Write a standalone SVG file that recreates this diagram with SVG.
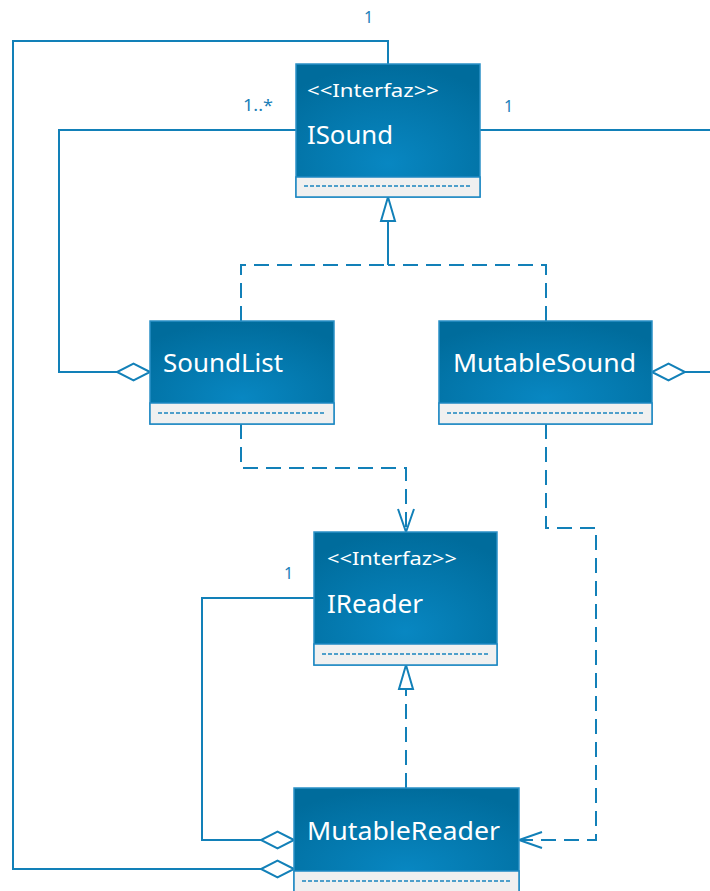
<svg xmlns="http://www.w3.org/2000/svg" width="710" height="891" viewBox="0 0 710 891">
  <defs>
    <radialGradient id="boxFill" cx="50%" cy="75%" r="75%">
      <stop offset="0" stop-color="#0887C2"/>
      <stop offset="1" stop-color="#006C9C"/>
    </radialGradient>
    <marker id="diamond" markerUnits="userSpaceOnUse" orient="auto" refX="0" refY="0" markerWidth="40" markerHeight="20" overflow="visible">
      <path d="M0,0 L-16.5,-8.5 L-33,0 L-16.5,8.5 Z" fill="#FFFFFF" stroke="#1280B8" stroke-width="2" stroke-linejoin="miter"/>
    </marker>
    <marker id="hollowTri" markerUnits="userSpaceOnUse" orient="auto" refX="0" refY="0" markerWidth="30" markerHeight="20" overflow="visible">
      <path d="M0,0 L-24,-7 L-24,7 Z" fill="#FFFFFF" stroke="#1280B8" stroke-width="2"/>
    </marker>
    <marker id="openArrow" markerUnits="userSpaceOnUse" orient="auto" refX="0" refY="0" markerWidth="30" markerHeight="20" overflow="visible">
      <path d="M-23,-8 L0,0 L-23,8" fill="none" stroke="#1280B8" stroke-width="2"/>
    </marker>
  </defs>
  <style>
    .box { fill: url(#boxFill); stroke: #2A90C6; stroke-width: 1.5; }
    .comp { fill: #F0F0F0; stroke: #1E88C2; stroke-width: 1.5; }
    .compDash { stroke: #1A84BE; stroke-width: 1.5; stroke-dasharray: 4 2; fill: none; }
    .stereo { font-family: "Noto Sans", "Open Sans", sans-serif; font-size: 18px; fill: #FFFFFF; }
    .name { font-family: "Noto Sans", "Open Sans", sans-serif; font-size: 26px; fill: #FFFFFF; }
    .mult { font-family: "Noto Sans", "Open Sans", sans-serif; font-size: 16px; fill: #1A7FB8; }
    .line { fill: none; stroke: #1280B8; stroke-width: 2; }
    .dashed { fill: none; stroke: #1280B8; stroke-width: 2; stroke-dasharray: 15 8; }
  </style>

  <g id="connectors">
    <!-- ISound to MutableReader: aggregation, multiplicity 1 -->
    <polyline class="line" points="388,64 388,41 13,41 13,869 294,869" marker-end="url(#diamond)"/>
    <!-- ISound to SoundList: aggregation, multiplicity 1..* -->
    <polyline class="line" points="296,130 59,130 59,372 150,372" marker-end="url(#diamond)"/>
    <!-- ISound to MutableSound: aggregation, multiplicity 1 (routed off to the right) -->
    <polyline class="line" points="480,130 712,130"/>
    <polyline class="line" points="712,372 652,372" marker-end="url(#diamond)"/>
    <!-- IReader to MutableReader: aggregation, multiplicity 1 -->
    <polyline class="line" points="314,598 202,598 202,840 294,840" marker-end="url(#diamond)"/>
    <!-- realizations of ISound -->
    <polyline class="dashed" points="241,321 241,265 388,265"/>
    <polyline class="dashed" points="546,321 546,265 388,265"/>
    <line class="line" x1="388" y1="265" x2="388" y2="197" marker-end="url(#hollowTri)"/>
    <!-- realization of IReader -->
    <line class="dashed" x1="406" y1="788" x2="406" y2="689"/>
    <line class="line" x1="406" y1="689" x2="406" y2="665" marker-end="url(#hollowTri)"/>
    <!-- dependencies -->
    <polyline class="dashed" points="241,424 241,468 406,468 406,532" marker-end="url(#openArrow)"/>
    <polyline class="dashed" points="546,424 546,528 596,528 596,840 519,840" marker-end="url(#openArrow)"/>

    <text class="mult" x="364" y="23">1</text>
    <text class="mult" x="243" y="111" textLength="30" lengthAdjust="spacingAndGlyphs">1..*</text>
    <text class="mult" x="504" y="112">1</text>
    <text class="mult" x="284" y="579">1</text>
  </g>

  <g id="ISound">
    <rect class="box" x="296" y="64" width="184" height="133"/>
    <rect class="comp" x="296" y="177" width="184" height="20"/>
    <line class="compDash" x1="304" y1="186" x2="471" y2="186"/>
    <text class="stereo" x="307" y="97" textLength="132" lengthAdjust="spacingAndGlyphs">&lt;&lt;Interfaz&gt;&gt;</text>
    <text class="name" x="307" y="144" textLength="86" lengthAdjust="spacingAndGlyphs">ISound</text>
  </g>

  <g id="SoundList">
    <rect class="box" x="150" y="321" width="184" height="103"/>
    <rect class="comp" x="150" y="403" width="184" height="21"/>
    <line class="compDash" x1="158" y1="413" x2="325" y2="413"/>
    <text class="name" x="163" y="372" textLength="120" lengthAdjust="spacingAndGlyphs">SoundList</text>
  </g>

  <g id="MutableSound">
    <rect class="box" x="439" y="321" width="213" height="103"/>
    <rect class="comp" x="439" y="403" width="213" height="21"/>
    <line class="compDash" x1="447" y1="413" x2="643" y2="413"/>
    <text class="name" x="453" y="372" textLength="183" lengthAdjust="spacingAndGlyphs">MutableSound</text>
  </g>

  <g id="IReader">
    <rect class="box" x="314" y="532" width="183" height="133"/>
    <rect class="comp" x="314" y="644" width="183" height="21"/>
    <line class="compDash" x1="322" y1="654" x2="488" y2="654"/>
    <text class="stereo" x="327" y="565" textLength="130" lengthAdjust="spacingAndGlyphs">&lt;&lt;Interfaz&gt;&gt;</text>
    <text class="name" x="327" y="613" textLength="96" lengthAdjust="spacingAndGlyphs">IReader</text>
  </g>

  <g id="MutableReader">
    <rect class="box" x="294" y="788" width="225" height="110"/>
    <rect class="comp" x="294" y="871" width="225" height="27"/>
    <line class="compDash" x1="302" y1="881" x2="510" y2="881"/>
    <text class="name" x="307" y="840" textLength="193" lengthAdjust="spacingAndGlyphs">MutableReader</text>
  </g>
</svg>
